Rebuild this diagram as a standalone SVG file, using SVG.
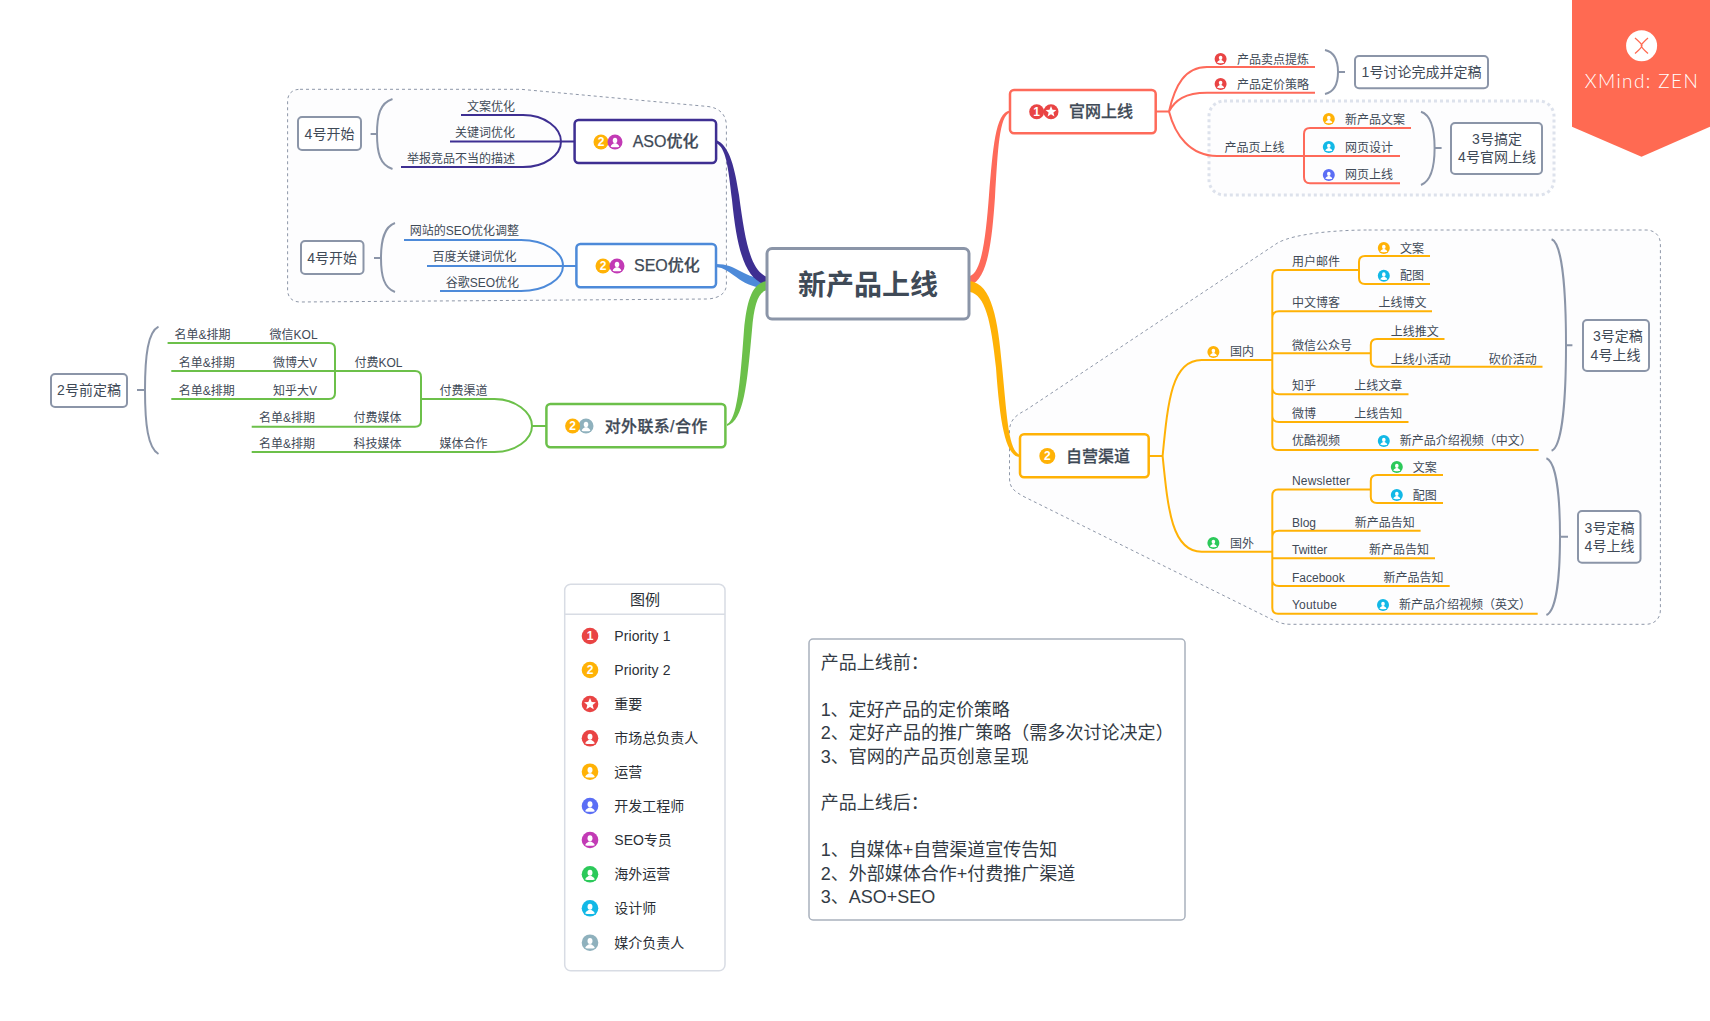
<svg xmlns="http://www.w3.org/2000/svg" xmlns:xlink="http://www.w3.org/1999/xlink" width="1710" height="1021" viewBox="0 0 1710 1021">
<style>
text{font-family:"Liberation Sans","Noto Sans CJK SC",sans-serif;fill:#3f4a57;dominant-baseline:central}
.s{font-size:12px;transform:translateY(.8px)}
.m{font-size:14px}
.t{font-size:16px;font-weight:500;fill:#3f4a57;stroke:#3f4a57;stroke-width:.25px}
.n{font-size:18px;fill:#333b45}
.l{font-size:14px;fill:#2b2f36}
.e{text-anchor:end}
.c{text-anchor:middle}
.box{fill:#fff;stroke-width:2.5}
.lab{fill:#fff;stroke:#8b95a8;stroke-width:2}
.grp{fill:#fdfdfe;stroke:#8e97a8;stroke-width:1;stroke-dasharray:3 3}
.ln{fill:none;stroke-width:2}
.br{fill:none;stroke:#8b95a8;stroke-width:2}
.red{stroke:#fe6a5a}.or{stroke:#ffb206}.gr{stroke:#6cc04a}.pu{stroke:#3e2f92}.bl{stroke:#4d8ad9}
.num{font-size:12px;font-weight:700;fill:#fff;text-anchor:middle}
</style>
<defs>
<symbol id="person" viewBox="-8 -8 16 16" overflow="visible"><circle r="8" fill="currentColor"/><ellipse cy="-1.6" rx="2.4" ry="2.9" fill="#fff"/><path d="M-4.6,5C-4.4,3-2.2,2.2-1,1.4H1C2.2,2.2,4.400,3,4.600,5C3,5.800-3,5.800-4.600,5Z" fill="#fff"/></symbol>
</defs>
<g id="group-boundaries">
<path class="grp" d="M300,89.300H521L708,106.500C720,108 726,115 726.400,125V285C726,293 720,298 708,299L300,302C292,302 287.600,297 287.600,290V101C287.600,94 292,89.300 300,89.300Z"/>
<path class="grp" d="M1368.600,230H1646C1655,230 1660.400,236 1660.400,244V610C1660.400,618 1655,624.300 1646,624.300H1290.500C1282,624.300 1278,622 1273,620L1024,496.700C1014,491 1009.500,488 1009.500,478V430C1010,420 1016,415 1026,410L1277.500,243C1295,233 1340,230 1368.600,230Z"/>
<rect x="1209" y="101" width="345" height="94" rx="15" fill="#fdfdfe" stroke="#dde2ec" stroke-width="3" stroke-dasharray="3 3"/>
</g>
<g id="connectors">
<path d="M970,276C982,272 986,235 989,195C993,150 995,112 1010,110.500L1010,112.500C999,116 998,150 995,197C992,240 988,280 970,285Z" fill="#fe6a5a"/>
<path d="M970,281C992,284 998,320 1002,366C1007,415 1008,450 1020,455L1020,457C1006,457 1000,425 996,368C991,320 985,295 970,292Z" fill="#ffb206"/>
<path d="M716,264C738,264 742,278 767,279L767,288C740,288 732,268 716,267Z" fill="#4d8ad9"/>
<path d="M716,140C730,145 735,170 739,195C745,240 750,270 767,277L767,285C745,280 737,250 732,200C728,165 726,148 716,143Z" fill="#3e2f92"/>
<path d="M767,290C758,292 754,305 752,330C747,385 744,420 727,426L727,424C737,420 740,385 744,330C747,300 752,283 767,281Z" fill="#6cc04a"/>
<g class="ln red">
<path d="M1156,111.500H1169M1169,111.500C1175,85 1185,67 1207,67H1315M1169,111.500C1175,100 1185,92.700 1207,92.700H1315M1169,111.500C1175,135 1190,156 1217,156H1304"/>
<path d="M1411,128H1310Q1304,128 1304,134V177Q1304,183.300 1310,183.300H1400M1304,156H1400"/>
</g>
<g class="ln or">
<path d="M1149,456H1162.600M1162.600,456C1168,400 1172,360 1201.600,360H1272.300M1162.600,456C1168,510 1172,551.700 1201.600,551.700H1272.300"/>
<path d="M1359,270H1278Q1272.300,270 1272.300,276V444Q1272.300,450 1278,450H1538.600M1272.300,318Q1272.300,311.300 1279,311.300H1432M1272.300,353.300H1370.800M1272.300,388Q1272.300,394.300 1279,394.300H1408.500M1272.300,416Q1272.300,422 1279,422H1408.500"/>
<path d="M1430,256H1365Q1359,256 1359,262V278Q1359,284 1365,284H1430"/>
<path d="M1444.500,339H1377Q1370.800,339 1370.800,345V360.700Q1370.800,366.700 1377,366.700H1542.500"/>
<path d="M1370.800,489.500H1278Q1272.300,489.500 1272.300,496V607.700Q1272.300,613.700 1278,613.700H1537.700M1272.300,537Q1272.300,530.700 1279,530.700H1420.600M1272.300,558.300H1435M1272.300,580Q1272.300,586 1279,586H1449.700"/>
<path d="M1443,475H1377Q1370.800,475 1370.800,481V497Q1370.800,503 1377,503H1443"/>
</g>
<g class="ln gr">
<path d="M546,426H532M532,426C532,412 515,399 494.500,399H421M532,426C532,440 515,452 494.500,452H251.700"/>
<path d="M171.300,371H415Q421,371 421,377V420.700Q421,426.700 415,426.700H251.700"/>
<path d="M167.600,343H329Q335,343 335,349V393Q335,399 329,399H171.300"/>
</g>
<path class="ln pu" d="M574,141.500H561M561,141.500C561,128 545,115 523,115H461M561,141.500H450M561,141.500C561,155 545,167 523,167H401"/>
<path class="ln bl" d="M576,266H563M563,266C563,252 545,240 521,240H404M563,266H427M563,266C563,279 545,291 521,291H440"/>
<g class="br">
<path d="M392.500,99C380,103 377,115 377,134C377,153 380,165 392.500,169M370.600,134H377"/>
<path d="M395,223C384,227 381,240 381,258C381,276 384,288 395,292M374,258H381"/>
<path d="M158.500,326.700C148,332 145,355 145,390C145,425 148,448 158.500,454M137,390H145"/>
<path d="M1325,50C1334,52 1338,60 1338,72C1338,84 1334,92 1325,94M1338,72H1345"/>
<path d="M1421,111.700C1431,115 1434.600,130 1434.600,148C1434.600,166 1431,181 1421,185M1434.600,148H1441.600"/>
<path d="M1551.600,239.300C1562,243 1566,290 1566,345C1566,400 1562,447 1551.600,450.700M1566,345.300H1572.400"/>
<path d="M1546.400,458.300C1556,462 1560,495 1560,536.700C1560,578 1556,611 1546.400,615M1560,536.700H1568"/>
</g>
</g>
<g id="central"><rect x="767" y="248.500" width="202" height="70.500" rx="5" fill="#fff" stroke="#8b95a8" stroke-width="3"/><text x="868" y="285" class="c" style="font-size:28px;font-weight:700;fill:#3f4a57">新产品上线</text></g>
<g id="aso"><rect class="box pu" x="574.600" y="120" width="141.500" height="43" rx="4"/><circle cx="601" cy="142" r="7.500" fill="#ffb206"/><use href="#person" x="607.500" y="134.500" width="15" height="15" color="#c23ab5"/><text class="num" x="601" y="142">2</text><text class="t" x="632.700" y="141.500">ASO优化</text></g>
<g id="seo"><rect class="box bl" x="576.400" y="244" width="139.600" height="43.300" rx="4"/><circle cx="603" cy="266" r="7.500" fill="#ffb206"/><use href="#person" x="609.500" y="258.500" width="15" height="15" color="#c23ab5"/><text class="num" x="603" y="266">2</text><text class="t" x="634" y="265.500">SEO优化</text></g>
<g id="outreach"><rect class="box gr" x="546.400" y="404" width="179" height="43.300" rx="4"/><use href="#person" x="578.500" y="418.500" width="15" height="15" color="#8fb1bd"/><circle cx="572.600" cy="426" r="7.500" fill="#ffb206"/><text class="num" x="572.600" y="426">2</text><text class="t" x="604.700" y="426" style="letter-spacing:.35px">对外联系/合作</text></g>
<g id="website"><rect class="box red" x="1010" y="90" width="145.700" height="43.300" rx="4"/><circle cx="1051" cy="111.700" r="7.500" fill="#e94444"/><path d="M1051,106L1052.500,109.700L1056.400,110L1053.400,112.500L1054.400,116.400L1051,114.300L1047.600,116.400L1048.600,112.500L1045.600,110L1049.500,109.700Z" fill="#fff"/><circle cx="1036.700" cy="111.700" r="7.500" fill="#e94444"/><text class="num" x="1036.700" y="111.700">1</text><text class="t" x="1069" y="111">官网上线</text></g>
<g id="owned"><rect class="box or" x="1020" y="434.300" width="128.700" height="43" rx="4"/><circle cx="1047.300" cy="456" r="8" fill="#ffb206"/><text class="num" x="1047.300" y="456">2</text><text class="t" x="1066" y="456">自营渠道</text></g>
<g id="aso-topics"><text class="s e" x="515" y="106.700">文案优化</text><text class="s e" x="515" y="132.700">关键词优化</text><text class="s e" x="515" y="158.700">举报竞品不当的描述</text></g>
<g id="seo-topics"><text class="s e" x="519" y="230.700">网站的SEO优化调整</text><text class="s e" x="516.600" y="256.700">百度关键词优化</text><text class="s e" x="519" y="282">谷歌SEO优化</text></g>
<g id="outreach-topics">
<text class="s" x="174.500" y="334">名单&amp;排期</text><text class="s" x="269.600" y="334">微信KOL</text>
<text class="s" x="178.700" y="362">名单&amp;排期</text><text class="s" x="273" y="362">微博大V</text>
<text class="s" x="178.700" y="390">名单&amp;排期</text><text class="s" x="273" y="390">知乎大V</text>
<text class="s" x="259" y="417.700">名单&amp;排期</text><text class="s" x="353.600" y="417.700">付费媒体</text>
<text class="s" x="259" y="443.300">名单&amp;排期</text><text class="s" x="353.600" y="443.300">科技媒体</text>
<text class="s" x="354.500" y="362">付费KOL</text><text class="s" x="439.400" y="390.700">付费渠道</text><text class="s" x="439.400" y="443.300">媒体合作</text>
</g>
<g id="website-topics">
<use href="#person" x="1214.600" y="53" width="12" height="12" color="#e94444"/><text class="s" x="1237" y="59">产品卖点提炼</text>
<use href="#person" x="1214.600" y="78" width="12" height="12" color="#e94444"/><text class="s" x="1237" y="84">产品定价策略</text>
<text class="s" x="1224.500" y="147">产品页上线</text>
<use href="#person" x="1322.800" y="113" width="12" height="12" color="#ffb206"/><text class="s" x="1345" y="119.300">新产品文案</text>
<use href="#person" x="1322.800" y="141" width="12" height="12" color="#12b8e6"/><text class="s" x="1345" y="147.500">网页设计</text>
<use href="#person" x="1322.800" y="169" width="12" height="12" color="#5b6ef5"/><text class="s" x="1345" y="174.700">网页上线</text>
</g>
<g id="domestic-topics">
<use href="#person" x="1207.400" y="346" width="12" height="12" color="#ffb206"/><text class="s" x="1230" y="351.700">国内</text>
<text class="s" x="1292" y="261.700">用户邮件</text>
<use href="#person" x="1377.800" y="242" width="12" height="12" color="#ffb206"/><text class="s" x="1400" y="248">文案</text>
<use href="#person" x="1377.800" y="269.700" width="12" height="12" color="#12b8e6"/><text class="s" x="1400" y="275.700">配图</text>
<text class="s" x="1292" y="302.300">中文博客</text><text class="s" x="1378.600" y="302.300">上线博文</text>
<text class="s" x="1292" y="345">微信公众号</text><text class="s" x="1390.700" y="331">上线推文</text><text class="s" x="1390.700" y="359">上线小活动</text><text class="s" x="1488.700" y="359">砍价活动</text>
<text class="s" x="1292" y="385.300">知乎</text><text class="s" x="1354.300" y="385.300">上线文章</text>
<text class="s" x="1292" y="413.300">微博</text><text class="s" x="1354.300" y="413.300">上线告知</text>
<text class="s" x="1292" y="440.700">优酷视频</text><use href="#person" x="1377.800" y="435" width="12" height="12" color="#12b8e6"/><text class="s" x="1399.800" y="440.700">新产品介绍视频（中文）</text>
</g>
<g id="overseas-topics">
<use href="#person" x="1207.400" y="537" width="12" height="12" color="#2cc95a"/><text class="s" x="1230" y="543">国外</text>
<text class="s" x="1292" y="480" style="letter-spacing:.15px">Newsletter</text>
<use href="#person" x="1390.800" y="461" width="12" height="12" color="#2cc95a"/><text class="s" x="1412.800" y="467">文案</text>
<use href="#person" x="1390.800" y="489" width="12" height="12" color="#12b8e6"/><text class="s" x="1412.800" y="495">配图</text>
<text class="s" x="1292" y="522">Blog</text><text class="s" x="1354.700" y="522">新产品告知</text>
<text class="s" x="1292" y="549.700">Twitter</text><text class="s" x="1369" y="549.700">新产品告知</text>
<text class="s" x="1292" y="577.700">Facebook</text><text class="s" x="1383.400" y="577.700">新产品告知</text>
<text class="s" x="1292" y="604.700" style="letter-spacing:.2px">Youtube</text><use href="#person" x="1377" y="599" width="12" height="12" color="#12b8e6"/><text class="s" x="1399" y="604.700">新产品介绍视频（英文）</text>
</g>
<g id="labels">
<g id="label-aso"><rect class="lab" x="298" y="117" width="63" height="33" rx="4"/><text class="m c" x="329.500" y="133.500">4号开始</text></g>
<g id="label-seo"><rect class="lab" x="301" y="241" width="62.500" height="33" rx="4"/><text class="m c" x="332.200" y="257.500">4号开始</text></g>
<g id="label-outreach"><rect class="lab" x="51" y="374" width="76" height="33" rx="4"/><text class="m c" x="89" y="390">2号前定稿</text></g>
<g id="label-web1"><rect class="lab" x="1355" y="56" width="133" height="32.300" rx="4"/><text class="m c" x="1421.500" y="72">1号讨论完成并定稿</text></g>
<g id="label-web2"><rect class="lab" x="1451" y="123" width="91" height="51" rx="4"/><text class="m c" x="1497" y="139">3号搞定</text><text class="m c" x="1497" y="157.300">4号官网上线</text></g>
<g id="label-dom"><rect class="lab" x="1583" y="320" width="66" height="51" rx="4"/><text class="m" x="1593" y="336">3号定稿</text><text class="m" x="1590.600" y="354.500">4号上线</text></g>
<g id="label-ovs"><rect class="lab" x="1578" y="511" width="62.500" height="51.700" rx="4"/><text class="m" x="1584.600" y="527.500">3号定稿</text><text class="m" x="1584.600" y="545.700">4号上线</text></g>
</g>
<g id="legend">
<rect x="564.700" y="584.300" width="160.300" height="386.400" rx="6" fill="#fff" stroke="#d8dce4" stroke-width="1.500"/>
<path d="M565,614.300H725" stroke="#d8dce4" stroke-width="1.500"/>
<text class="c" x="645" y="599.500" style="font-size:15px;fill:#2b2f36">图例</text>
<circle cx="590" cy="636" r="8.300" fill="#e94444"/><text class="num" x="590" y="636">1</text><text class="l" x="614.300" y="636" style="letter-spacing:.1px">Priority 1</text>
<circle cx="590" cy="670" r="8.300" fill="#ffb206"/><text class="num" x="590" y="670">2</text><text class="l" x="614.300" y="670" style="letter-spacing:.1px">Priority 2</text>
<circle cx="590" cy="704" r="8.300" fill="#e94444"/><path d="M590,698L591.700,701.900L595.900,702.300L592.700,705L593.700,709.200L590,707L586.300,709.200L587.300,705L584.100,702.300L588.300,701.900Z" fill="#fff"/><text class="l" x="614.300" y="704">重要</text>
<use href="#person" x="581.700" y="730" width="16.600" height="16.600" color="#e94444"/><text class="l" x="614.300" y="738.300">市场总负责人</text>
<use href="#person" x="581.700" y="763.400" width="16.600" height="16.600" color="#ffb206"/><text class="l" x="614.300" y="771.700">运营</text>
<use href="#person" x="581.700" y="797.700" width="16.600" height="16.600" color="#5b6ef5"/><text class="l" x="614.300" y="805.500">开发工程师</text>
<use href="#person" x="581.700" y="831.700" width="16.600" height="16.600" color="#c23ab5"/><text class="l" x="614.300" y="840">SEO专员</text>
<use href="#person" x="581.700" y="866" width="16.600" height="16.600" color="#2cc95a"/><text class="l" x="614.300" y="874.300">海外运营</text>
<use href="#person" x="581.700" y="900" width="16.600" height="16.600" color="#12b8e6"/><text class="l" x="614.300" y="908.300">设计师</text>
<use href="#person" x="581.700" y="934.400" width="16.600" height="16.600" color="#8fb1bd"/><text class="l" x="614.300" y="942.700">媒介负责人</text>
</g>
<g id="notes">
<rect x="809" y="639" width="376" height="281" rx="4" fill="#fff" stroke="#a9b1bd" stroke-width="1.500"/>
<text class="n" x="820.700" y="663">产品上线前：</text>
<text class="n" x="820.700" y="710" style="letter-spacing:-.1px">1、定好产品的定价策略</text>
<text class="n" x="820.700" y="733.300" style="letter-spacing:.05px">2、定好产品的推广策略（需多次讨论决定）</text>
<text class="n" x="820.700" y="757.300">3、官网的产品页创意呈现</text>
<text class="n" x="820.700" y="803">产品上线后：</text>
<text class="n" x="820.700" y="850">1、自媒体+自营渠道宣传告知</text>
<text class="n" x="820.700" y="874">2、外部媒体合作+付费推广渠道</text>
<text class="n" x="820.700" y="897.300">3、ASO+SEO</text>
</g>
<g id="badge">
<path d="M1572,0H1710V126.700L1641.500,156.700L1572,126.700Z" fill="#ff6a52"/>
<ellipse cx="1641.600" cy="45.700" rx="15.500" ry="15.500" fill="#fff"/>
<path d="M1635,38Q1642,44 1642,45.700Q1642,47.500 1635,53.500M1648,38Q1641.200,44 1641.200,45.700Q1641.200,47.500 1648,53.500" stroke="#ff6a52" stroke-width="1.300" fill="none"/>
<text class="c" x="1642" y="80" style="font-family:Lato,sans-serif;font-size:19px;font-weight:300;fill:#fff;letter-spacing:1.400px">XMind: ZEN</text>
</g>
</svg>
